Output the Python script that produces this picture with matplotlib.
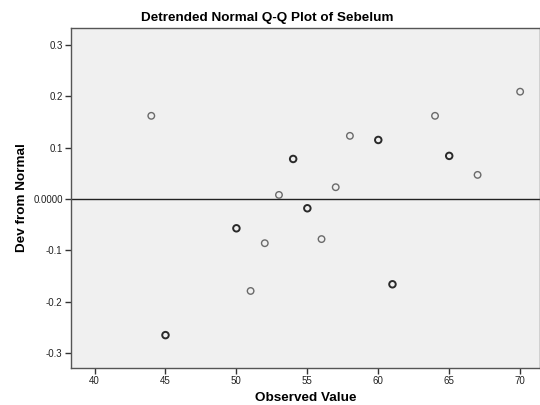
import matplotlib
matplotlib.use("Agg")
import matplotlib.pyplot as plt

plt.rcParams['font.family'] = ['Liberation Sans', 'DejaVu Sans']

observed = [44, 45, 50, 51, 52, 53, 54, 55, 56, 57, 58, 60, 61, 64, 65, 67, 70]
deviation = [0.162, -0.265, -0.057, -0.179, -0.086, 0.008, 0.078, -0.018,
             -0.078, 0.023, 0.123, 0.115, -0.166, 0.162, 0.084, 0.047, 0.209]
counts = [1, 2, 2, 1, 1, 1, 2, 2, 1, 1, 1, 2, 2, 1, 2, 1, 1]
x_ticks = [40, 45, 50, 55, 60, 65, 70]
y_ticks = [-0.3, -0.2, -0.1, 0.0, 0.1, 0.2, 0.3]
y_labels = ['-0.3', '-0.2', '-0.1', '0.0000', '0.1', '0.2', '0.3']

fig = plt.figure(figsize=(5.4, 4.05), dpi=100)
ax = fig.add_axes([71/540, 1 - 368/405, 469/540, 340/405])
ax.set_facecolor('#f0f0f0')

ax.axhline(0, color='#222222', lw=1.0, zorder=1)

for xv, yv, c in zip(observed, deviation, counts):
    if c > 1:
        ax.scatter(xv, yv, s=22, facecolors='none', edgecolors='#2a2a2a',
                   linewidths=1.4, zorder=3)
    else:
        ax.scatter(xv, yv, s=22, facecolors='none', edgecolors='#6a6a6a',
                   linewidths=1.0, zorder=3)

ax.set_xlim(38.34, 71.4)
ax.set_ylim(-0.329, 0.333)
ax.set_xticks(x_ticks)
ax.set_xticklabels([str(v) for v in x_ticks])
ax.set_yticks(y_ticks)
ax.set_yticklabels(y_labels)
ax.tick_params(axis='both', direction='out', length=4, width=1,
               color='#333333', labelsize=7, labelcolor='#222222', pad=2)

for side in ['left', 'bottom', 'top', 'right']:
    ax.spines[side].set_color('#555555')
    ax.spines[side].set_linewidth(1.0)

fig.text(267/540, 1 - 17.5/405, 'Detrended Normal Q-Q Plot of Sebelum',
         fontsize=9.7, fontweight='bold', ha='center', va='center')
ax.set_xlabel('Observed Value', fontsize=9.7, fontweight='bold', labelpad=4)
ax.set_ylabel('Dev from Normal', fontsize=9.7, fontweight='bold', labelpad=4)

fig.savefig('out.png', dpi=100)
